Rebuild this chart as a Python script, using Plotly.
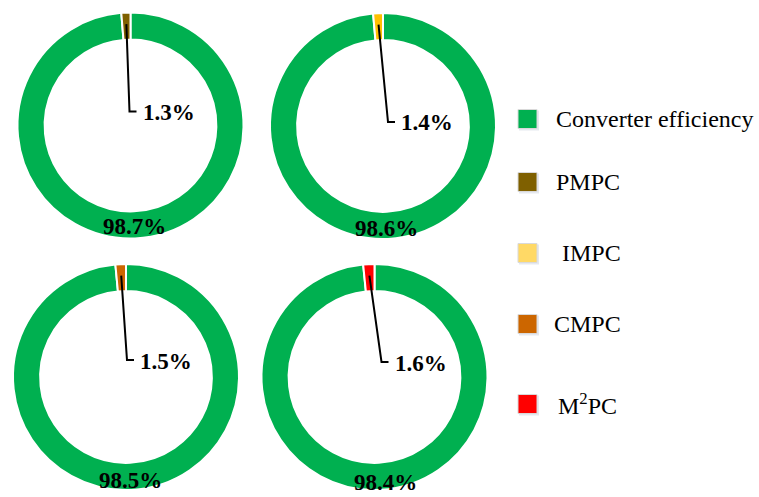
import math
import plotly.graph_objects as go

# ---------------- data ----------------
methods = ["PMPC", "IMPC", "CMPC", "M<sup>2</sup>PC"]
efficiency = [98.7, 98.6, 98.5, 98.4]
loss = [1.3, 1.4, 1.5, 1.6]
legend_labels = ["Converter efficiency", "PMPC", "IMPC", "CMPC", "M<sup>2</sup>PC"]

# ---------------- styles ----------------
GREEN = "#00B050"
slice_colors = ["#7F6000", "#FFC000", "#CC6600", "#FF0000"]
legend_colors = [GREEN, "#7F6000", "#FFD966", "#CC6600", "#FF0000"]
W, H = 759, 497
FONT = "Liberation Serif, Times New Roman, serif"

# pie centres / radius in pixels (layout)
centers = [(130.5, 125.5), (383, 126), (126, 377), (374.5, 377)]
R = 113
HOLE = 0.76
big_label_pos = [(134, 226), (386, 228), (130, 480), (385, 482)]
elbow = [(-1, -14), (5, -4), (1, -17), (7, -15)]  # leader elbow offsets from centre
leg_text_x = [556, 556, 562, 554, 558]


def px(x):
    return x / W


def py(y):
    return 1 - y / H


fig = go.Figure()
shapes = []
annotations = []

for i, (cx, cy) in enumerate(centers):
    fig.add_trace(go.Pie(
        values=[efficiency[i], loss[i]],
        labels=["Converter efficiency", methods[i]],
        marker=dict(colors=[GREEN, slice_colors[i]], line=dict(color="white", width=2)),
        hole=HOLE,
        sort=False,
        direction="clockwise",
        rotation=0,
        textinfo="none",
        hoverinfo="label+percent",
        showlegend=False,
        domain=dict(x=[px(cx - R), px(cx + R)], y=[py(cy + R), py(cy - R)]),
    ))
    # big percentage label
    bx, by = big_label_pos[i]
    annotations.append(dict(
        x=px(bx), y=py(by), xref="paper", yref="paper", showarrow=False,
        text=f"<b>{efficiency[i]:.1f}%</b>", xanchor="center", yanchor="middle",
        font=dict(family=FONT, size=23, color="black"),
    ))
    # leader line from small slice midpoint
    frac = loss[i] / (efficiency[i] + loss[i])
    theta = -frac * math.pi  # mid angle, clockwise from top
    rr = R * (1 + HOLE) / 2 + 2
    sx = cx + rr * math.sin(theta)
    sy = cy - rr * math.cos(theta)
    ex, ey = cx + elbow[i][0], cy + elbow[i][1]
    hx = ex + 7
    shapes.append(dict(
        type="path", xref="paper", yref="paper",
        path=f"M {px(sx)} {py(sy)} L {px(ex)} {py(ey)} L {px(hx)} {py(ey)}",
        line=dict(color="black", width=2),
    ))
    annotations.append(dict(
        x=px(hx + 4), y=py(ey + 1), xref="paper", yref="paper", showarrow=False,
        text=f"<b>{loss[i]:.1f}%</b>", xanchor="left", yanchor="middle",
        font=dict(family=FONT, size=23, color="black"),
    ))

# manual legend
leg_y = [119, 182, 253, 324, 404]
sq_x0, sq = 518, 19
for lab, col, yy, tx in zip(legend_labels, legend_colors, leg_y, leg_text_x):
    shapes.append(dict(
        type="rect", xref="paper", yref="paper",
        x0=px(sq_x0 + 1), x1=px(sq_x0 + sq + 2), y0=py(yy + sq / 2 + 2), y1=py(yy - sq / 2 + 1),
        fillcolor="rgba(180,190,210,0.35)", line=dict(width=0),
    ))
    shapes.append(dict(
        type="rect", xref="paper", yref="paper",
        x0=px(sq_x0), x1=px(sq_x0 + sq), y0=py(yy + sq / 2), y1=py(yy - sq / 2),
        fillcolor=col, line=dict(color="#D9D9D9", width=1),
    ))
    annotations.append(dict(
        x=px(tx - 2), y=py(yy), xref="paper", yref="paper", showarrow=False,
        text=lab, xanchor="left", yanchor="middle",
        font=dict(family=FONT, size=24, color="black"),
    ))

fig.update_layout(
    width=W, height=H,
    margin=dict(l=0, r=0, t=0, b=0),
    paper_bgcolor="white", plot_bgcolor="white",
    shapes=shapes, annotations=annotations,
    showlegend=False,
)

fig.write_html("out.html")
